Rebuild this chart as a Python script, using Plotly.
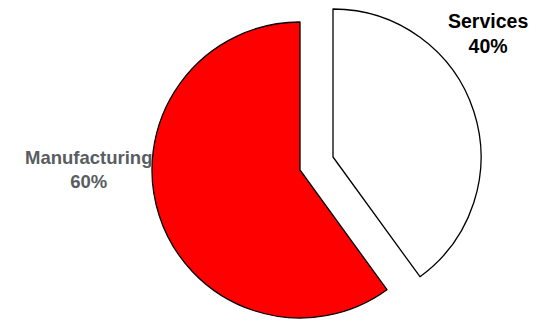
import plotly.graph_objects as go

labels = ["Services", "Manufacturing"]
values = [40, 60]
colors = ["#ffffff", "#ff0000"]
label_colors = ["#000000", "#595d62"]
label_sizes = [19.5, 18.5]
pct_text = ["40%", "60%"]

W, H = 543, 322
R = 148
# pixel centres of each (separated) slice
centers = {"Services": (333, 157), "Manufacturing": (300, 170)}
label_pos = {"Services": (488, 34), "Manufacturing": (88, 169)}

fig = go.Figure()
for i, name in enumerate(labels):
    cx, cy = centers[name]
    slice_colors = [colors[j] if j == i else "rgba(0,0,0,0)" for j in range(len(labels))]
    widths = [1.3 if j == i else 0 for j in range(len(labels))]
    fig.add_trace(go.Pie(
        labels=labels,
        values=values,
        sort=False,
        direction="clockwise",
        rotation=0,
        marker=dict(colors=slice_colors, line=dict(color="#000000", width=widths)),
        textinfo="none",
        hoverinfo="label+percent",
        showlegend=False,
        domain=dict(x=[(cx - R) / W, (cx + R) / W],
                    y=[(H - (cy + R)) / H, (H - (cy - R)) / H]),
    ))

for i, name in enumerate(labels):
    lx, ly = label_pos[name]
    fig.add_annotation(
        x=lx / W, y=1 - ly / H, xref="paper", yref="paper",
        text=f"<b>{name}<br>{pct_text[i]}</b>",
        showarrow=False, xanchor="center", yanchor="middle",
        font=dict(family="Liberation Sans, Arial, sans-serif", size=label_sizes[i], color=label_colors[i]),
    )

fig.update_layout(
    width=W, height=H,
    margin=dict(l=0, r=0, t=0, b=0),
    paper_bgcolor="white", plot_bgcolor="white",
)
fig.write_html("out.html")
